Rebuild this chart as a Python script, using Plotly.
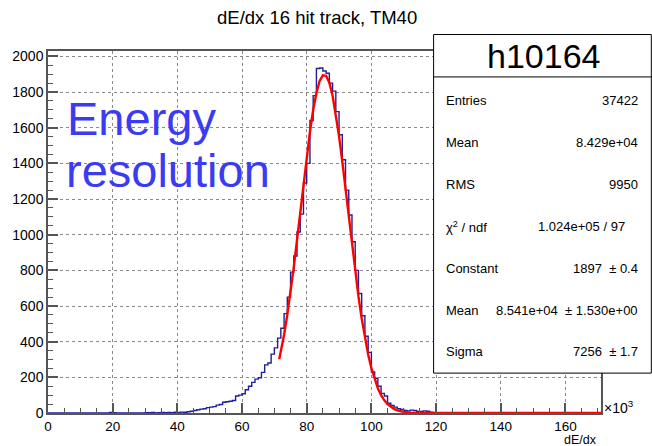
import plotly.graph_objects as go

# ---------------- data ----------------
bin_width = 1000
x_max = 171000
first_bin = 17  # counts below start at bin index 17 (17k); all other bins are empty
counts = [
    0, 0, 3, 2, 0, 0, 0, 0, 0, 0, 0, 0, 0,          # 17-29
    2, 1, 3, 0, 2, 3, 1, 3, 2, 4, 3, 5, 4, 7,       # 30-43
    10, 14, 18, 22, 24, 30, 33, 36, 44, 48,         # 44-53
    60, 63, 66, 70, 95, 100, 108, 130, 150, 172,    # 54-63
    190, 198, 228, 270, 280, 330, 365, 420, 475,    # 64-72
    557, 650, 790, 880, 1015, 1115, 1290, 1400, 1640, 1780,   # 73-82
    1932, 1935, 1918, 1905, 1850, 1805, 1690, 1560, 1420, 1250,  # 83-92
    1110, 960, 800, 670, 545, 430, 340,             # 93-99
    230, 195, 150, 110, 95, 55, 42, 33, 24, 20,     # 100-109
    14, 12, 16, 14, 9, 8, 12, 10, 4, 2, 1,          # 110-120
]

# fitted gaussian curve, x in units of 1e3
fit_x_k = [71.5, 72, 73, 74, 75, 76, 77, 78, 79, 80, 81, 82, 83, 84, 85, 86, 87, 88, 89,
           90, 91, 92, 93, 94, 95, 96, 97, 98, 99, 100, 101, 102, 103, 104, 105, 106, 107,
           108, 109, 110, 112, 115, 120, 171]
fit_y = [302, 344, 439, 551, 678, 818, 969, 1126, 1284, 1437, 1577, 1699, 1795, 1862, 1894,
         1891, 1852, 1780, 1678, 1553, 1410, 1256, 1098, 941, 792, 654, 530, 421, 328, 251,
         189, 139, 100, 71, 50, 34, 23, 15, 10, 6, 2, 0.4, 0, 0]

x_tick_vals_k = [0, 20, 40, 60, 80, 100, 120, 140, 160]
x_tick_labels = ["0", "20", "40", "60", "80", "100", "120", "140", "160"]

title_text = "dE/dx 16 hit track, TM40"
hist_name = "h10164"
stat_labels = ["Entries", "Mean", "RMS", "χ<sup>2</sup> / ndf", "Constant", "Mean", "Sigma"]
stat_values = ["37422", "8.429e+04", "9950", "1.024e+05 / 97", "1897  ± 0.4",
               "8.541e+04  ± 1.530e+00", "7256  ± 1.7"]

# ---------------- build histogram steps ----------------
n_bins = x_max // bin_width
full = [0] * n_bins
for i, c in enumerate(counts):
    full[first_bin + i] = c
edges = [i * bin_width for i in range(n_bins + 1)]
step_y = full + [full[-1]]

fit_x = [v * 1000 for v in fit_x_k]

# ---------------- geometry helpers (pixels -> paper) ----------------
W, H = 652, 446
L, R, T, B = 46, 601, 51, 414
def fx(px):
    return (px - L) / (R - L)
def fy(py):
    return (B - py) / (B - T)

FONT = "Liberation Sans, Arial, Helvetica, sans-serif"

fig = go.Figure()
fig.add_trace(go.Scatter(x=edges, y=step_y, mode="lines", line_shape="hv",
                         line=dict(color="#1f1f9a", width=1.4), hoverinfo="skip",
                         showlegend=False))
fig.add_trace(go.Scatter(x=fit_x, y=fit_y, mode="lines",
                         line=dict(color="#ff0000", width=2.4), hoverinfo="skip",
                         showlegend=False))

axis_common = dict(showline=True, mirror=True, linecolor="#555555", linewidth=1.5,
                   ticks="inside", tickcolor="#555555", tickwidth=1.5,
                   showgrid=True, gridcolor="#8a8a8a", griddash="dot", gridwidth=1,
                   zeroline=False)

fig.update_xaxes(range=[0, x_max], tickvals=[v * 1000 for v in x_tick_vals_k],
                 ticktext=x_tick_labels, ticklen=10,
                 tickfont=dict(family=FONT, size=13.5, color="#000000"),
                 minor=dict(ticks="inside", dtick=5000, ticklen=5, tickcolor="#555555",
                            tickwidth=1.2, showgrid=False),
                 **axis_common)
fig.update_yaxes(range=[0, 2030], dtick=200, tick0=0, ticklen=10,
                 tickfont=dict(family=FONT, size=14, color="#000000"),
                 minor=dict(ticks="inside", dtick=50, ticklen=5, tickcolor="#555555",
                            tickwidth=1.2, showgrid=False),
                 **axis_common)

shapes = []
# stats box
shapes.append(dict(type="rect", xref="paper", yref="paper",
                   x0=fx(433), x1=fx(651.5), y0=fy(374), y1=fy(34.5),
                   line=dict(color="#000000", width=1), fillcolor="#ffffff", layer="above"))
shapes.append(dict(type="line", xref="paper", yref="paper",
                   x0=fx(433), x1=fx(651.5), y0=fy(77), y1=fy(77),
                   line=dict(color="#000000", width=1), layer="above"))

ann = []
ann.append(dict(text=title_text, x=fx(316), y=fy(17), xref="paper", yref="paper",
                xanchor="center", yanchor="middle", showarrow=False,
                font=dict(family=FONT, size=18.5, color="#000000")))
ann.append(dict(text=hist_name, x=fx(543), y=fy(56), xref="paper", yref="paper",
                xanchor="center", yanchor="middle", showarrow=False,
                font=dict(family=FONT, size=34, color="#000000")))
row_y = [101, 143, 185, 227, 269, 311, 352]
for i, (lab, val) in enumerate(zip(stat_labels, stat_values)):
    ann.append(dict(text=lab, x=fx(443), y=fy(row_y[i]), xref="paper", yref="paper",
                    xanchor="left", yanchor="middle", showarrow=False,
                    font=dict(family=FONT, size=13, color="#000000")))
    vx = 627 if i == 3 else 640
    ann.append(dict(text=val, x=fx(vx), y=fy(row_y[i]), xref="paper", yref="paper",
                    xanchor="right", yanchor="middle", showarrow=False,
                    font=dict(family=FONT, size=13, color="#000000")))
# axis decorations
ann.append(dict(text="×10<sup>3</sup>", x=fx(602), y=fy(408), xref="paper", yref="paper",
                xanchor="left", yanchor="middle", showarrow=False,
                font=dict(family=FONT, size=14, color="#000000")))
ann.append(dict(text="dE/dx", x=fx(599), y=fy(441), xref="paper", yref="paper",
                xanchor="right", yanchor="middle", showarrow=False,
                font=dict(family=FONT, size=12.5, color="#000000")))
# big blue text
ann.append(dict(text="Energy", x=fx(63), y=fy(119), xref="paper", yref="paper",
                xanchor="left", yanchor="middle", showarrow=False,
                font=dict(family=FONT, size=47, color="#3b3bf2")))
ann.append(dict(text="resolution", x=fx(62), y=fy(171), xref="paper", yref="paper",
                xanchor="left", yanchor="middle", showarrow=False,
                font=dict(family=FONT, size=47, color="#3b3bf2")))

fig.update_layout(width=W, height=H, margin=dict(l=L, r=W - R, t=T, b=H - B),
                  paper_bgcolor="#ffffff", plot_bgcolor="#ffffff",
                  shapes=shapes, annotations=ann, showlegend=False)

fig.write_html("out.html")
